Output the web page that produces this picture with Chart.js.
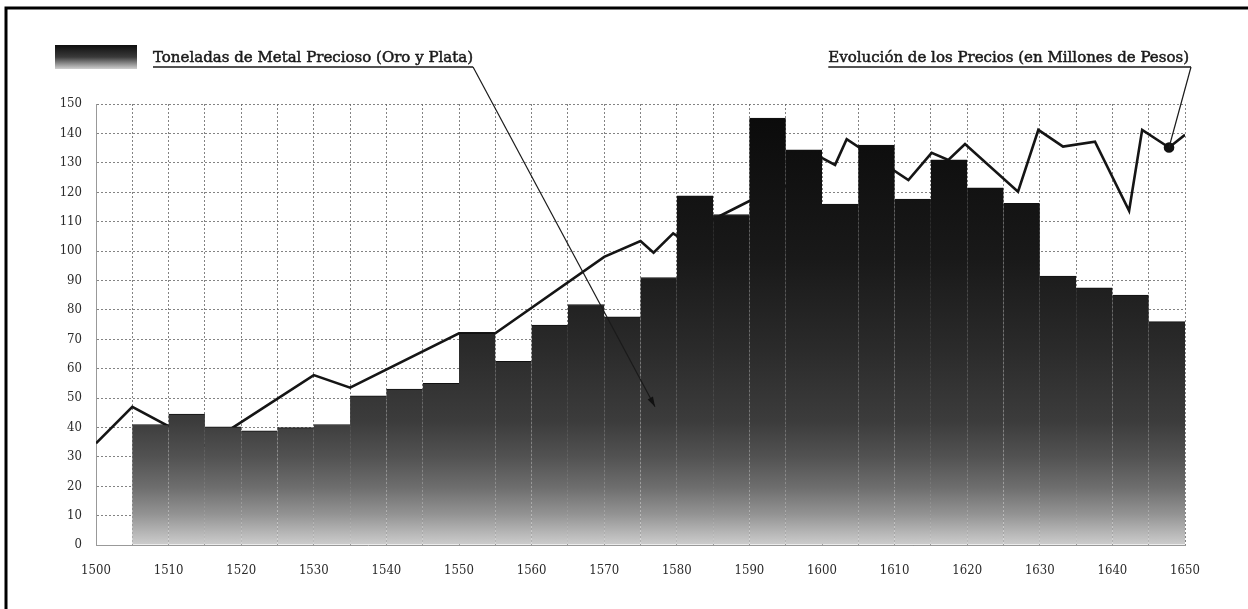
<!DOCTYPE html>
<html lang="es">
<head>
<meta charset="utf-8">
<title>Toneladas de metal precioso y evolución de los precios</title>
<script src="https://cdn.jsdelivr.net/npm/chart.js@4.4.1/dist/chart.umd.min.js"></script>
<style>
    html, body { margin: 0; padding: 0; background: #fff; }
    #wrap { width: 1248px; height: 609px; }
</style>
</head>
<body>
<div id="wrap"><canvas id="metalChart" width="1248" height="609"></canvas></div>
<script>
// Toneladas de metal precioso por quinquenio (inicio del periodo)
const barYears = [1505, 1510, 1515, 1520, 1525, 1530, 1535, 1540, 1545, 1550,
                  1555, 1560, 1565, 1570, 1575, 1580, 1585, 1590, 1595, 1600,
                  1605, 1610, 1615, 1620, 1625, 1630, 1635, 1640, 1645];
const tonnes = [41, 44.5, 40.2, 38.8, 39.9, 41, 50.7, 53, 55, 72,
                62.5, 74.8, 81.8, 77.6, 91, 118.8, 112.4, 145.2, 134.4, 116,
                136, 117.7, 131, 121.5, 116.2, 91.5, 87.5, 85, 76];

// Evolución de los precios (millones de pesos)
const priceYears = [1500, 1505, 1515, 1530, 1535, 1550, 1555, 1570, 1575, 1576.8,
                    1579.5, 1582.3, 1584, 1590, 1595, 1599.7, 1601.8, 1603.4, 1611.9, 1615.1,
                    1617.4, 1619.7, 1627, 1629.8, 1633.2, 1637.6, 1642.3, 1644.1, 1647.8, 1650];
const prices = [34.6, 47, 33.8, 57.8, 53.5, 72, 72, 98, 103.4, 99.4,
                106, 101.5, 109.5, 117, 122, 132, 129.3, 138, 124.1, 133.4,
                131, 136.4, 120.2, 141.2, 135.5, 137.2, 113.7, 141.2, 135.2, 139.5];

const yTicks = [0, 10, 20, 30, 40, 50, 60, 70, 80, 90, 100, 110, 120, 130, 140, 150];
const xTicks = [1500, 1510, 1520, 1530, 1540, 1550, 1560, 1570, 1580, 1590, 1600, 1610, 1620, 1630, 1640, 1650];

const barLabel = 'Toneladas de Metal Precioso (Oro y Plata)';
const priceLabel = 'Evolución de los Precios (en Millones de Pesos)';
const barPointer = { x: 1577, y: 47 };   // where the bar label's leader ends
const pricePointIndex = 28;               // price point marked with a dot

const period = 5;
const barData = barYears.map((yr, i) => ({ x: yr + period / 2, y: tonnes[i] }));
const priceData = priceYears.map((yr, i) => ({ x: yr, y: prices[i] }));

function barGradient(context) {
    const chart = context.chart;
    const area = chart.chartArea;
    if (!area) return '#333';
    const g = chart.ctx.createLinearGradient(0, area.top, 0, area.bottom);
    g.addColorStop(0, '#0a0a0a');
    g.addColorStop(0.35, '#191919');
    g.addColorStop(0.55, '#2a2a2a');
    g.addColorStop(0.72, '#3c3c3c');
    g.addColorStop(0.8, '#525252');
    g.addColorStop(0.87, '#6e6e6e');
    g.addColorStop(0.93, '#939393');
    g.addColorStop(1, '#cdcdcd');
    return g;
}

const serif = '"DejaVu Serif", "Liberation Serif", serif';

const legendPlugin = {
    id: 'legendAndLeaders',
    afterDraw(chart) {
        const { ctx } = chart;
        const x = chart.scales.x;
        const y = chart.scales.y;
        ctx.save();

        // outer frame (top and left only)
        ctx.strokeStyle = '#000';
        ctx.lineWidth = 3;
        ctx.beginPath();
        ctx.moveTo(6, 609);
        ctx.lineTo(6, 8);
        ctx.lineTo(1248, 8);
        ctx.stroke();

        // swatch for the bars
        const sw = ctx.createLinearGradient(0, 45, 0, 69);
        sw.addColorStop(0, '#0e0e0e');
        sw.addColorStop(0.5, '#3a3a3a');
        sw.addColorStop(1, '#d0d0d0');
        ctx.fillStyle = sw;
        ctx.fillRect(55, 45, 82, 24);

        ctx.font = '15px ' + serif;
        ctx.fillStyle = '#1a1a1a';
        ctx.textBaseline = 'alphabetic';
        ctx.strokeStyle = '#1a1a1a';

        // bar label + underline + leader with arrow
        ctx.textAlign = 'left';
        ctx.lineWidth = 0.5;
        ctx.fillText(barLabel, 153, 62);
        ctx.strokeText(barLabel, 153, 62);
        const end1 = 153 + ctx.measureText(barLabel).width;
        ctx.lineWidth = 1.5;
        ctx.beginPath();
        ctx.moveTo(153, 67);
        ctx.lineTo(end1, 67);
        ctx.stroke();

        const tx = x.getPixelForValue(barPointer.x);
        const ty = y.getPixelForValue(barPointer.y);
        ctx.lineWidth = 1.2;
        ctx.beginPath();
        ctx.moveTo(end1, 67);
        ctx.lineTo(tx, ty);
        ctx.stroke();
        const ang = Math.atan2(ty - 67, tx - end1);
        ctx.fillStyle = '#111';
        ctx.beginPath();
        ctx.moveTo(tx, ty);
        ctx.lineTo(tx - 10 * Math.cos(ang) + 3 * Math.sin(ang), ty - 10 * Math.sin(ang) - 3 * Math.cos(ang));
        ctx.lineTo(tx - 10 * Math.cos(ang) - 3 * Math.sin(ang), ty - 10 * Math.sin(ang) + 3 * Math.cos(ang));
        ctx.closePath();
        ctx.fill();

        // price label + underline + leader to the dot
        ctx.fillStyle = '#1a1a1a';
        ctx.textAlign = 'right';
        ctx.lineWidth = 0.5;
        ctx.fillText(priceLabel, 1189, 62);
        ctx.strokeText(priceLabel, 1189, 62);
        const start2 = 1189 - ctx.measureText(priceLabel).width;
        ctx.lineWidth = 1.5;
        ctx.beginPath();
        ctx.moveTo(start2, 67);
        ctx.lineTo(1191, 67);
        ctx.stroke();

        const px = x.getPixelForValue(priceYears[pricePointIndex]);
        const py = y.getPixelForValue(prices[pricePointIndex]);
        ctx.lineWidth = 1.2;
        ctx.beginPath();
        ctx.moveTo(1191, 67);
        ctx.lineTo(px, py);
        ctx.stroke();

        ctx.restore();
    }
};

const tickFont = { family: '"DejaVu Serif Condensed", "DejaVu Serif", serif', size: 13 };

const ctx = document.getElementById('metalChart').getContext('2d');
const myChart = new Chart(ctx, {
    type: 'bar',
    data: {
        datasets: [
            {
                type: 'bar',
                label: barLabel,
                data: barData,
                backgroundColor: barGradient,
                borderColor: '#111',
                borderWidth: { top: 1, left: 0, right: 0, bottom: 0 },
                borderSkipped: false,
                barPercentage: 1,
                categoryPercentage: 1,
                order: 1
            },
            {
                type: 'line',
                label: priceLabel,
                data: priceData,
                borderColor: '#151515',
                borderWidth: 2.6,
                tension: 0,
                fill: false,
                pointRadius: priceYears.map((_, i) => i === pricePointIndex ? 4 : 0),
                pointBackgroundColor: '#111',
                pointBorderColor: '#111',
                order: 2
            }
        ]
    },
    options: {
        responsive: false,
        animation: false,
        layout: { padding: { left: 0, right: 63, top: 104, bottom: 0 } },
        plugins: {
            legend: { display: false },
            tooltip: { enabled: false }
        },
        scales: {
            x: {
                type: 'linear',
                offset: false,
                min: xTicks[0],
                max: xTicks[xTicks.length - 1],
                z: 1,
                afterFit: (scale) => { scale.height = 64; },
                afterBuildTicks: (scale) => {
                    const t = [];
                    for (let v = xTicks[0]; v <= xTicks[xTicks.length - 1]; v += period) t.push({ value: v });
                    scale.ticks = t;
                },
                grid: { offset: false, color: 'rgba(100,100,100,0.8)', lineWidth: 1, drawTicks: false },
                border: { display: true, color: '#999', width: 1, dash: [2, 2] },
                ticks: {
                    padding: 18,
                    color: '#2a2a2a',
                    font: tickFont,
                    autoSkip: false,
                    maxRotation: 0,
                    callback: (v) => xTicks.includes(v) ? String(v) : ''
                }
            },
            y: {
                min: yTicks[0],
                max: yTicks[yTicks.length - 1],
                z: 1,
                afterFit: (scale) => { scale.width = 96; },
                afterBuildTicks: (scale) => { scale.ticks = yTicks.map(v => ({ value: v })); },
                grid: { color: 'rgba(100,100,100,0.8)', lineWidth: 1, drawTicks: false },
                border: { display: true, color: '#999', width: 1, dash: [2, 2] },
                ticks: {
                    padding: 14,
                    color: '#2a2a2a',
                    font: tickFont
                }
            }
        }
    },
    plugins: [legendPlugin]
});
</script>
</body>
</html>
